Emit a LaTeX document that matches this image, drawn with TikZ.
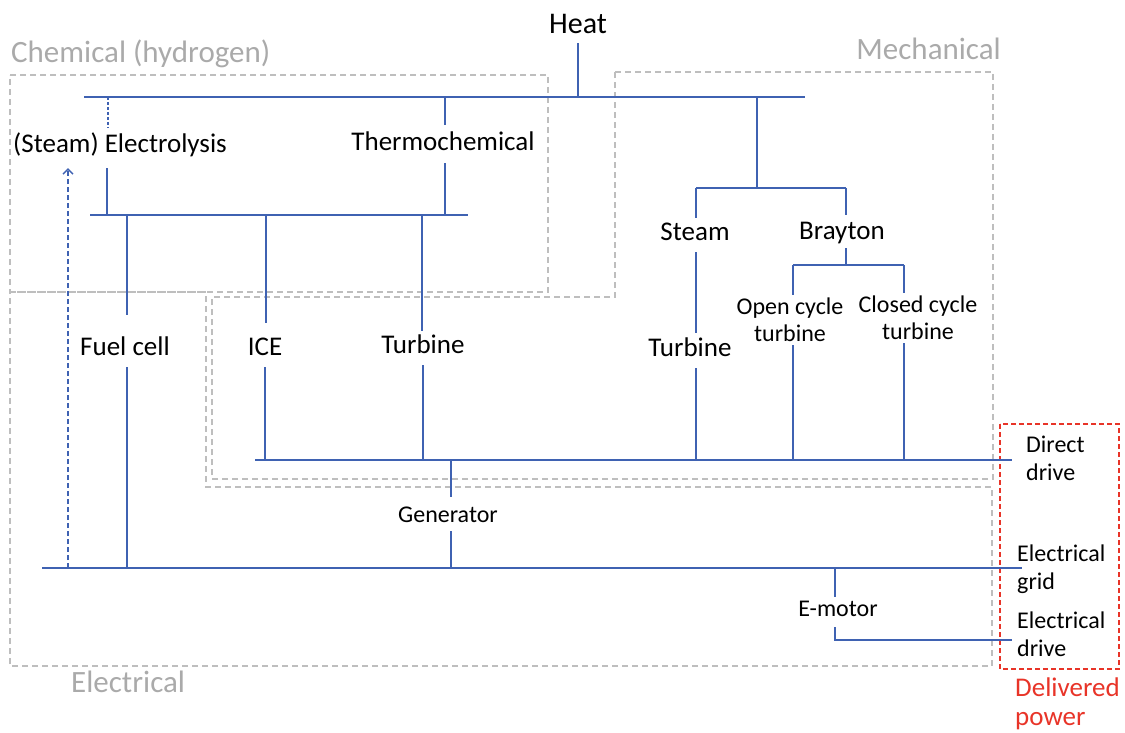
\documentclass[tikz,border=0pt]{standalone}
\usepackage{fontspec}
\setmainfont{Carlito}
\usetikzlibrary{arrows.meta}
\definecolor{bl}{RGB}{63,98,178}
\definecolor{gr}{RGB}{190,190,190}
\definecolor{grt}{RGB}{170,170,170}
\definecolor{rd}{RGB}{232,52,40}
\tikzset{
  bus/.style={draw=bl, line width=1.5pt},
  grp/.style={draw=gr, line width=1.2pt, dash pattern=on 6pt off 4pt},
  lbl/.style={font=\fontsize{27}{30}\selectfont, inner sep=0pt, anchor=base, text height=22pt, text depth=12pt},
  slbl/.style={font=\fontsize{24}{28}\selectfont, inner sep=0pt, anchor=base},
  mlbl/.style={font=\fontsize{24}{27.5}\selectfont, inner sep=3pt, align=center},
  rlbl/.style={font=\fontsize{24}{28}\selectfont, inner sep=3pt, align=left, anchor=west},
  glbl/.style={font=\fontsize{31}{34}\selectfont, text=grt, inner sep=0pt}
}
\begin{document}
\begin{tikzpicture}[x=1pt,y=-1pt]
\useasboundingbox (0,0) rectangle (1125,733);
% group boxes
\draw[grp] (10,75) -- (548,75) -- (548,292) -- (10,292) -- cycle;
\draw[grp] (10,292) -- (206,292) -- (206,487) -- (992,487) -- (992,666) -- (10,666) -- cycle;
\draw[grp] (615,72) -- (993,72) -- (993,479) -- (212,479) -- (212,297) -- (615,297) -- cycle;
\draw[draw=rd, line width=1.2pt, dash pattern=on 5pt off 3pt] (1000,424) rectangle (1119,669);
% group labels
\node[glbl, anchor=base west] (chem) at (11,63) {Chemical (hydrogen)};
\node[glbl, anchor=base east] (mech) at (1001,60) {Mechanical};
\node[glbl, anchor=base west] (elec) at (71,692) {Electrical};
\node[font=\fontsize{27}{29.5}\selectfont, text=rd, align=left, anchor=west, inner sep=2pt] (deliv) at (1013,704) {Delivered\\power};
% labels
\node[lbl, font=\fontsize{30}{34}\selectfont, text depth=9pt] (heat) at (578,34) {Heat};
\node[lbl, text height=25pt, text depth=15pt] (electro) at (120,153) {(Steam) Electrolysis};
\node[lbl, text height=26pt] (thermo) at (443,151) {Thermochemical};
\node[lbl, text height=40pt] (fuel) at (125,355) {Fuel cell};
\node[lbl, text height=32pt] (ice) at (265,355) {ICE};
\node[lbl] (turbC) at (423,353) {Turbine};
\node[slbl, text height=25pt, text depth=9pt] (gen) at (448,522) {Generator};
\node[lbl] (steam) at (695,240) {Steam};
\node[lbl, text height=24pt, text depth=9pt] (brayton) at (842,239) {Brayton};
\node[lbl, text height=23pt] (turbM) at (690,356) {Turbine};
\node[mlbl] (open) at (790,320) {Open cycle\\turbine};
\node[mlbl] (closed) at (918,318) {Closed cycle\\turbine};
\node[slbl, text height=19pt, text depth=11pt] (emotor) at (838,616) {E-motor};
\node[rlbl] (direct) at (1023,458) {Direct\\drive};
\node[rlbl] (grid) at (1014,569) {Electrical\\grid};
\node[rlbl] (edrive) at (1014,634) {Electrical\\drive};
% bus coordinates
\coordinate (tL) at (84,97);   \coordinate (tR) at (805,97);
\coordinate (hL) at (90,215);  \coordinate (hR) at (468,215);
\coordinate (dL) at (255,460); \coordinate (dR) at (1012,460);
\coordinate (eL) at (42,568);  \coordinate (eR) at (1022,568);
\coordinate (mL) at (696,188); \coordinate (mR) at (846,188);
\coordinate (bL) at (793,265); \coordinate (bR) at (904,265);
\coordinate (emC) at (835,640); \coordinate (emR) at (1012,640);
% buses
\draw[bus] (tL) -- (tR);
\draw[bus] (hL) -- (hR);
\draw[bus] (dL) -- (dR);
\draw[bus] (eL) -- (eR);
\draw[bus] (mL) -- (mR);
\draw[bus] (bL) -- (bR);
% heat
\draw[bus] (heat.south) -- (heat.south |- tL);
% chemical
\draw[bus, dash pattern=on 3pt off 2pt] (108,97) -- (108,97 |- electro.north);
\draw[bus] (107,215) -- (107,215 |- electro.south);
\draw[bus] (445,97) -- (445,97 |- thermo.north);
\draw[bus] (445,215) -- (445,215 |- thermo.south);
\draw[bus] (127,215) -- (127,215 |- fuel.north);
\draw[bus] (127,568) -- (127,568 |- fuel.south);
\draw[bus] (266,215) -- (266,215 |- ice.north);
\draw[bus] (265,460) -- (265,460 |- ice.south);
\draw[bus] (422,215) -- (422,215 |- turbC.north);
\draw[bus] (423,460) -- (423,460 |- turbC.south);
% generator
\draw[bus] (451,460) -- (451,460 |- gen.north);
\draw[bus] (451,568) -- (451,568 |- gen.south);
% steam electrolysis feedback
\draw[draw=bl, line width=1.3pt, dash pattern=on 5pt off 3pt, -{Straight Barb[length=5pt,width=10pt]}] (68,568) -- (68,568 |- electro.south);
% mechanical
\draw[bus] (757,97) -- (757,188);
\draw[bus] (mL) -- (mL |- steam.north);
\draw[bus] (steam.south -| mL) -- (mL |- turbM.north);
\draw[bus] (696,460) -- (696,460 |- turbM.south);
\draw[bus] (mR) -- (mR |- brayton.north);
\draw[bus] (846,265) -- (846,265 |- brayton.south);
\draw[bus] (bL) -- (bL |- open.north);
\draw[bus] (793,460) -- (793,460 |- open.south);
\draw[bus] (bR) -- (bR |- closed.north);
\draw[bus] (904,460) -- (904,460 |- closed.south);
% e-motor
\draw[bus] (835,568) -- (835,568 |- emotor.north);
\draw[bus] (emotor.south -| emC) -- (emC) -- (emR);
\end{tikzpicture}
\end{document}
